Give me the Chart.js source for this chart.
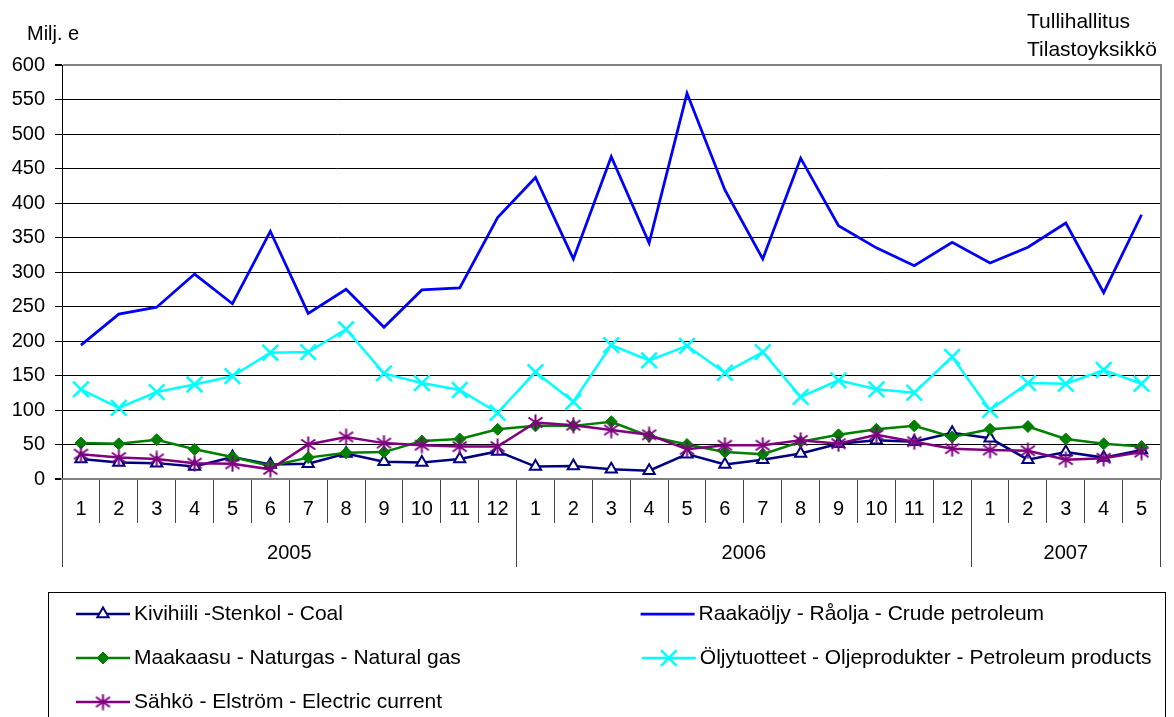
<!DOCTYPE html>
<html>
<head>
<meta charset="utf-8">
<script src="https://cdn.jsdelivr.net/npm/chart.js@4.4.1/dist/chart.umd.min.js"></script>
<style>
  html, body { margin: 0; padding: 0; background: #fff; }
  #wrap { width: 1174px; height: 717px; }
</style>
</head>
<body>
<div id="wrap"><canvas id="energyChart" width="1174" height="717"></canvas></div>
<script>
// chart data
const years = ["2005", "2006", "2007"];
const monthsPerYear = [12, 12, 5];
const unitLabel = "Milj. e";
const sourceLines = ["Tullihallitus", "Tilastoyksikkö"];

const seriesNames = [
  "Kivihiili -Stenkol - Coal",
  "Raakaöljy - Råolja - Crude petroleum",
  "Maakaasu - Naturgas - Natural gas",
  "Öljytuotteet - Oljeprodukter - Petroleum products",
  "Sähkö - Elström - Electric current"
];

const coal = [29, 24, 23, 18, 32, 21, 22, 37, 25, 24, 29, 40, 18, 19, 14, 12, 36, 21, 28, 37, 51, 56, 54, 67, 59, 28, 39, 31, 42];
const crudeOil = [194, 239, 249, 297, 254, 359, 240, 275, 220, 274, 277, 379, 437, 319, 467, 342, 559, 419, 319, 465, 367, 335, 309, 343, 313, 336, 371, 270, 383];
const naturalGas = [52, 51, 57, 43, 32, 19, 31, 38, 39, 55, 58, 72, 77, 77, 83, 62, 50, 39, 36, 54, 64, 72, 77, 61, 72, 76, 58, 51, 47];
const oilProducts = [130, 103, 126, 137, 149, 183, 184, 217, 153, 139, 129, 96, 155, 112, 194, 172, 193, 154, 184, 119, 143, 130, 125, 177, 100, 139, 138, 158, 138];
const electricity = [36, 31, 29, 23, 22, 14, 50, 61, 52, 49, 47, 47, 82, 78, 71, 64, 43, 49, 49, 56, 51, 64, 54, 44, 42, 41, 28, 30, 39];

// month labels 1..n for every year
const monthLabels = [];
monthsPerYear.forEach(n => { for (let m = 1; m <= n; m++) monthLabels.push(String(m)); });

// year row: lines at year boundaries, labels in the middle of each year
const yearBounds = [0];
const yearMids = {};
monthsPerYear.forEach((n, i) => {
  const start = yearBounds[yearBounds.length - 1];
  yearMids[start + n / 2] = years[i];
  yearBounds.push(start + n);
});
const yearTicks = yearBounds.concat(Object.keys(yearMids).map(Number)).sort((a, b) => a - b);

const FONT = "'Liberation Sans', Arial, sans-serif";
Chart.defaults.font.family = FONT;
Chart.defaults.font.size = 20;
Chart.defaults.color = "#000";

// asterisk marker like the one in the original
function starMarker(color) {
  const c = document.createElement("canvas");
  c.width = 17; c.height = 17;
  const g = c.getContext("2d");
  g.strokeStyle = color;
  g.lineWidth = 2;
  g.beginPath();
  g.moveTo(8.5, 0.5); g.lineTo(8.5, 16.5);
  g.moveTo(1.5, 3.5); g.lineTo(15.5, 13.5);
  g.moveTo(1.5, 13.5); g.lineTo(15.5, 3.5);
  g.stroke();
  return c;
}

const LEGEND_BOX = 117.5;
const LEGEND_PAD = 6;
const LEGEND_FONT = 21;
const LEGEND_ITEM_H = 38;
const COL1_TEXT_WIDTH = 432;

function padLabel(ctx, text, target) {
  let t = text;
  let guard = 0;
  while (ctx.measureText(t + " ").width <= target && guard++ < 200) t += " ";
  if (ctx.measureText("\u200A").width > 0.5) {
    guard = 0;
    while (ctx.measureText(t + "\u200A").width <= target && guard++ < 20) t += "\u200A";
  }
  return t;
}

const legendSamples = {
  id: "legendSamples",
  afterDraw(chart) {
    const lg = chart.legend;
    const ctx = chart.ctx;
    ctx.save();
    // legend frame
    ctx.strokeStyle = "#000";
    ctx.lineWidth = 1;
    ctx.strokeRect(48.5, 592.5, 1117, 200);

    lg.legendHitBoxes.forEach((hb, k) => {
      const ds = chart.data.datasets[lg.legendItems[k].datasetIndex];
      const tx = hb.left + LEGEND_BOX + LEGEND_FONT / 2;
      const cy = hb.top + LEGEND_ITEM_H / 2;
      ctx.strokeStyle = ds.borderColor;
      ctx.lineWidth = ds.borderWidth;
      ctx.beginPath();
      ctx.moveTo(tx - 58, cy);
      ctx.lineTo(tx - 4, cy);
      ctx.stroke();
      if (ds.pointRadius > 0) {
        ctx.fillStyle = ds.pointBackgroundColor;
        ctx.strokeStyle = ds.pointBorderColor;
        ctx.lineWidth = ds.pointBorderWidth;
        Chart.helpers.drawPoint(ctx, {
          pointStyle: ds.pointStyle, radius: ds.pointRadius,
          borderWidth: ds.pointBorderWidth, rotation: 0
        }, tx - 31, cy);
      }
    });

    // unit and source texts
    ctx.fillStyle = "#000";
    ctx.textBaseline = "alphabetic";
    ctx.textAlign = "left";
    ctx.font = "20px " + FONT;
    ctx.fillText(unitLabel, 27, 40);
    ctx.font = "21px " + FONT;
    ctx.fillText(sourceLines[0], 1027, 28);
    ctx.fillText(sourceLines[1], 1027, 56);
    ctx.restore();
  }
};

const edgeGrey = "#808080";

new Chart(document.getElementById("energyChart"), {
  type: "line",
  data: {
    labels: monthLabels,
    datasets: [
      {
        label: seriesNames[0], data: coal, order: 5,
        borderColor: "#000080", borderWidth: 2.5,
        pointStyle: "triangle", pointRadius: 6.5,
        pointBackgroundColor: "#fff", pointBorderColor: "#000080", pointBorderWidth: 2
      },
      {
        label: seriesNames[1], data: crudeOil, order: 4,
        borderColor: "#0000FF", borderWidth: 2.75,
        pointRadius: 0
      },
      {
        label: seriesNames[2], data: naturalGas, order: 3,
        borderColor: "#008000", borderWidth: 2.5,
        pointStyle: "rectRot", pointRadius: 6,
        pointBackgroundColor: "#008000", pointBorderColor: "#008000", pointBorderWidth: 1
      },
      {
        label: seriesNames[3], data: oilProducts, order: 2,
        borderColor: "#00FFFF", borderWidth: 2.5,
        pointStyle: "crossRot", pointRadius: 11,
        pointBackgroundColor: "#00FFFF", pointBorderColor: "#00FFFF", pointBorderWidth: 2.5
      },
      {
        label: seriesNames[4], data: electricity, order: 1,
        borderColor: "#800080", borderWidth: 2.5,
        pointStyle: starMarker("#800080"), pointRadius: 8,
        pointBackgroundColor: "#800080", pointBorderColor: "#800080", pointBorderWidth: 2
      }
    ]
  },
  options: {
    responsive: false,
    animation: false,
    events: [],
    layout: { padding: { left: 0, top: 65, right: 0, bottom: 0 } },
    elements: { line: { tension: 0 } },
    scales: {
      y: {
        min: 0, max: 600,
        ticks: { stepSize: 50, padding: 10 },
        grid: {
          color: c => (c.tick.value === 600 || c.tick.value === 0) ? edgeGrey : "#000",
          lineWidth: c => (c.tick.value === 600 || c.tick.value === 0) ? 2 : 1,
          tickColor: "#000",
          tickLength: 7
        },
        border: { color: "#000", width: 1 },
        afterFit: s => { s.width = 62; }
      },
      y2: {
        axis: "y", position: "right", display: true,
        grid: { display: false },
        ticks: { display: false },
        border: { color: edgeGrey, width: 2 },
        afterFit: s => { s.width = 9; }
      },
      x: {
        type: "category", offset: true, weight: 0,
        grid: { offset: true, drawOnChartArea: false, drawTicks: true, tickLength: 44, color: "#444" },
        border: { color: edgeGrey, width: 2 },
        ticks: { autoSkip: false, maxRotation: 0, minRotation: 0, padding: -26 },
        afterFit: s => { s.height = 44; }
      },
      x2: {
        axis: "x", type: "linear", position: "bottom", weight: 1,
        min: 0, max: yearBounds[yearBounds.length - 1],
        afterBuildTicks: s => { s.ticks = yearTicks.map(v => ({ value: v })); },
        grid: {
          drawOnChartArea: false, drawTicks: true, tickLength: 44,
          color: c => yearBounds.includes(c.tick.value) ? "#444" : "rgba(0,0,0,0)",
          tickColor: c => yearBounds.includes(c.tick.value) ? "#444" : "rgba(0,0,0,0)"
        },
        border: { display: false },
        ticks: {
          autoSkip: false, maxRotation: 0, minRotation: 0, padding: -26,
          callback: v => yearMids[v] || ""
        },
        afterFit: s => { s.height = 66; }
      }
    },
    plugins: {
      tooltip: { enabled: false },
      legend: {
        position: "bottom",
        align: "start",
        maxHeight: 128,
        labels: {
          boxWidth: LEGEND_BOX,
          boxHeight: LEGEND_ITEM_H,
          padding: LEGEND_PAD,
          color: "#000",
          font: { size: LEGEND_FONT },
          generateLabels: chart => {
            const ctx = chart.ctx;
            ctx.save();
            ctx.font = LEGEND_FONT + "px " + FONT;
            const items = chart.data.datasets.map((ds, i) => ({
              text: i % 2 === 0 ? padLabel(ctx, ds.label, COL1_TEXT_WIDTH) : ds.label,
              datasetIndex: i,
              fillStyle: "rgba(0,0,0,0)",
              strokeStyle: "rgba(0,0,0,0)",
              lineWidth: 0,
              hidden: false,
              fontColor: "#000"
            }));
            ctx.restore();
            return items;
          }
        }
      }
    }
  },
  plugins: [legendSamples]
});
</script>
</body>
</html>
